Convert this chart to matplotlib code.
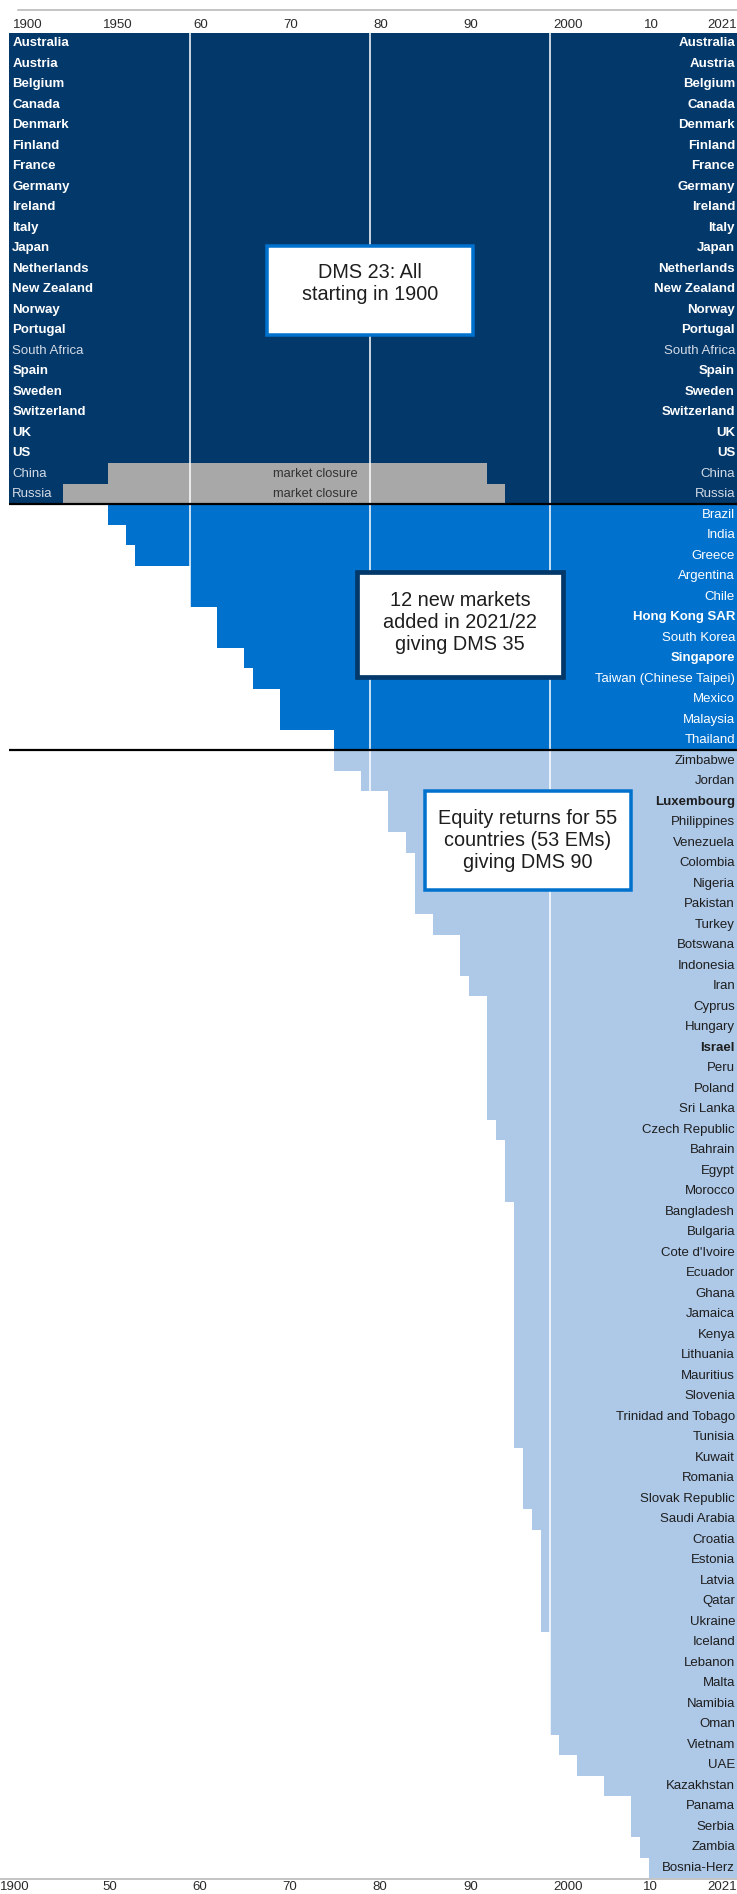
import numpy as np
import matplotlib
matplotlib.use('Agg')
import matplotlib.pyplot as plt
from matplotlib.patches import Rectangle
from matplotlib.lines import Line2D

plt.rcParams['font.family'] = ['Liberation Sans', 'DejaVu Sans']

# ---- data (start year of each market's return series) ----
END_YEAR = 2021

dms23_names = ['Australia', 'Austria', 'Belgium', 'Canada', 'Denmark', 'Finland', 'France',
               'Germany', 'Ireland', 'Italy', 'Japan', 'Netherlands', 'New Zealand', 'Norway',
               'Portugal', 'South Africa', 'Spain', 'Sweden', 'Switzerland', 'UK', 'US',
               'China', 'Russia']
dms23_start = [1900] * 23
dms23_bold = [n not in ('South Africa', 'China', 'Russia') for n in dms23_names]

closure_names = ['China', 'Russia']
closure_start = [1951, 1930]
closure_end = [1993, 1995]

new12_names = ['Brazil', 'India', 'Greece', 'Argentina', 'Chile', 'Hong Kong SAR', 'South Korea',
               'Singapore', 'Taiwan (Chinese Taipei)', 'Mexico', 'Malaysia', 'Thailand']
new12_start = [1951, 1953, 1954, 1960, 1960, 1963, 1963, 1966, 1967, 1970, 1970, 1976]
new12_bold = ['Hong Kong SAR', 'Singapore']

em55_names = ['Zimbabwe', 'Jordan', 'Luxembourg', 'Philippines', 'Venezuela', 'Colombia',
              'Nigeria', 'Pakistan', 'Turkey', 'Botswana', 'Indonesia', 'Iran', 'Cyprus',
              'Hungary', 'Israel', 'Peru', 'Poland', 'Sri Lanka', 'Czech Republic', 'Bahrain',
              'Egypt', 'Morocco', 'Bangladesh', 'Bulgaria', "Cote d'Ivoire", 'Ecuador', 'Ghana',
              'Jamaica', 'Kenya', 'Lithuania', 'Mauritius', 'Slovenia', 'Trinidad and Tobago',
              'Tunisia', 'Kuwait', 'Romania', 'Slovak Republic', 'Saudi Arabia', 'Croatia',
              'Estonia', 'Latvia', 'Qatar', 'Ukraine', 'Iceland', 'Lebanon', 'Malta', 'Namibia',
              'Oman', 'Vietnam', 'UAE', 'Kazakhstan', 'Panama', 'Serbia', 'Zambia', 'Bosnia-Herz']
em55_start = [1976, 1979, 1982, 1982, 1984, 1985, 1985, 1985, 1987, 1990, 1990, 1991,
              1993, 1993, 1993, 1993, 1993, 1993, 1994, 1995, 1995, 1995,
              1996, 1996, 1996, 1996, 1996, 1996, 1996, 1996, 1996, 1996, 1996, 1996,
              1997, 1997, 1997, 1998, 1999, 1999, 1999, 1999, 1999,
              2000, 2000, 2000, 2000, 2000, 2001, 2003, 2006, 2009, 2009, 2010, 2011]
em55_bold = ['Luxembourg', 'Israel']

tick_years = [1900, 1950, 1960, 1970, 1980, 1990, 2000, 2010, 2021]
top_labels = ['1900', '1950', '60', '70', '80', '90', '2000', '10', '2021']
bottom_labels = ['1900', '50', '60', '70', '80', '90', '2000', '10', '2021']
grid_years = [1960, 1980, 2000]

# ---- colours ----
NAVY = '#03386a'
MID = '#0071cd'
LIGHT = '#aec8e8'
GREY = '#a8a8a8'
TXT = '#1e1e1e'

# ---- compressed scale before 1950 ----
def fwd(x):
    x = np.asarray(x, dtype=float)
    return np.where(x < 1950, 1950 - (1950 - x) * 0.2, x)

def inv(x):
    x = np.asarray(x, dtype=float)
    return np.where(x < 1950, 1950 - (1950 - x) / 0.2, x)

W, H = 737, 1894
fig = plt.figure(figsize=(W / 100, H / 100), dpi=100)
ax = fig.add_axes([9.3 / W, (H - 1878) / H, (W - 9.3) / W, (1878 - 33) / H])
ax.set_xscale('function', functions=(fwd, inv))
ax.set_xlim(1900, 2020.75)
n_rows = len(dms23_names) + len(new12_names) + len(em55_names)
ax.set_ylim(n_rows - 0.5, -0.5)
ax.set_xticks([])
ax.set_yticks([])
for s in ax.spines.values():
    s.set_visible(False)

r1 = np.arange(len(dms23_names))
r2 = np.arange(len(new12_names)) + len(dms23_names)
r3 = np.arange(len(em55_names)) + len(dms23_names) + len(new12_names)

ax.barh(r1, END_YEAR - np.array(dms23_start), left=dms23_start, height=1.0, color=NAVY, lw=0)
ax.barh(r2, END_YEAR - np.array(new12_start), left=new12_start, height=1.0, color=MID, lw=0)
ax.barh(r3, END_YEAR - np.array(em55_start), left=em55_start, height=1.0, color=LIGHT, lw=0)

cl_rows = [dms23_names.index(n) for n in closure_names]
ax.barh(cl_rows, np.array(closure_end) - np.array(closure_start), left=closure_start,
        height=1.0, color=GREY, lw=0)
for r in cl_rows:
    ax.text(1974, r, 'market closure', ha='center', va='center', fontsize=9.3, color='#333333')

for g in grid_years:
    ax.axvline(g, color='white', lw=1.1, zorder=3)

# group separators
for b in [len(dms23_names) - 0.5, len(dms23_names) + len(new12_names) - 0.5]:
    ax.axhline(b, color='black', lw=1.6, zorder=4)

ytr = ax.get_yaxis_transform()
FS = 9.5
for r, name, bold in zip(r1, dms23_names, dms23_bold):
    col = 'white' if bold else '#d4dbe6'
    fw = 'bold' if bold else 'normal'
    ax.text(0.004, r, name, transform=ytr, ha='left', va='center', fontsize=FS,
            color=col, fontweight=fw, zorder=5)
    ax.text(0.9973, r, name, transform=ytr, ha='right', va='center', fontsize=FS,
            color=col, fontweight=fw, zorder=5)
for r, name in zip(r2, new12_names):
    fw = 'bold' if name in new12_bold else 'normal'
    ax.text(0.9973, r, name, transform=ytr, ha='right', va='center', fontsize=FS,
            color='white', fontweight=fw, zorder=5)
for r, name in zip(r3, em55_names):
    fw = 'bold' if name in em55_bold else 'normal'
    ax.text(0.9973, r, name, transform=ytr, ha='right', va='center', fontsize=FS,
            color=TXT, fontweight=fw, zorder=5)

# axis labels top and bottom
for yr, lab in zip(tick_years, top_labels):
    ha = 'right' if yr == END_YEAR else 'left'
    dx = -1.5 if yr == END_YEAR else 2.5
    ax.annotate(lab, xy=(yr, 1), xycoords=('data', 'axes fraction'), xytext=(dx, 6),
                textcoords='offset points', ha=ha, va='center', fontsize=FS, color='#2a2a2a',
                annotation_clip=False)
for yr, lab in zip(tick_years, bottom_labels):
    if yr == END_YEAR:
        ha, dx = 'right', -1.5
    elif yr == 1900:
        ha, dx = 'left', -6.4
    else:
        ha, dx = 'left', 2.2
    ax.annotate(lab, xy=(yr, 0), xycoords=('data', 'axes fraction'), xytext=(dx, -6.5),
                textcoords='offset points', ha=ha, va='center', fontsize=FS, color='#2a2a2a',
                annotation_clip=False)

# grey axis lines
fig.add_artist(Line2D([18 / W, 1], [1 - 10 / H, 1 - 10 / H], color='#b4b4b4', lw=1.1))
fig.add_artist(Line2D([0, 1], [1 - 1878.5 / H, 1 - 1878.5 / H], color='#b4b4b4', lw=1.1))

# annotation boxes (pixel coords from top-left)
def box(x0, y0, x1, y1, edge, lw_px, text, tx, ty):
    h = lw_px / 2
    fig.add_artist(Rectangle(((x0 + h) / W, 1 - (y1 - h) / H), (x1 - x0 - 2 * h) / W,
                             (y1 - y0 - 2 * h) / H, facecolor='white', edgecolor=edge,
                             lw=lw_px * 0.72, zorder=10))
    fig.text(tx / W, 1 - ty / H, text, ha='center', va='center', multialignment='center',
             fontsize=14.3, color=TXT, linespacing=1.2, zorder=11)

box(265, 244, 475, 337, MID, 3.5, 'DMS 23: All\nstarting in 1900', 370, 283)
box(355, 570, 565, 679, NAVY, 4.7, '12 new markets\nadded in 2021/22\ngiving DMS 35', 460, 623)
box(423, 789, 633, 892, MID, 3.5, 'Equity returns for 55\ncountries (53 EMs)\ngiving DMS 90', 528, 840)

fig.savefig('out.png', dpi=100)
